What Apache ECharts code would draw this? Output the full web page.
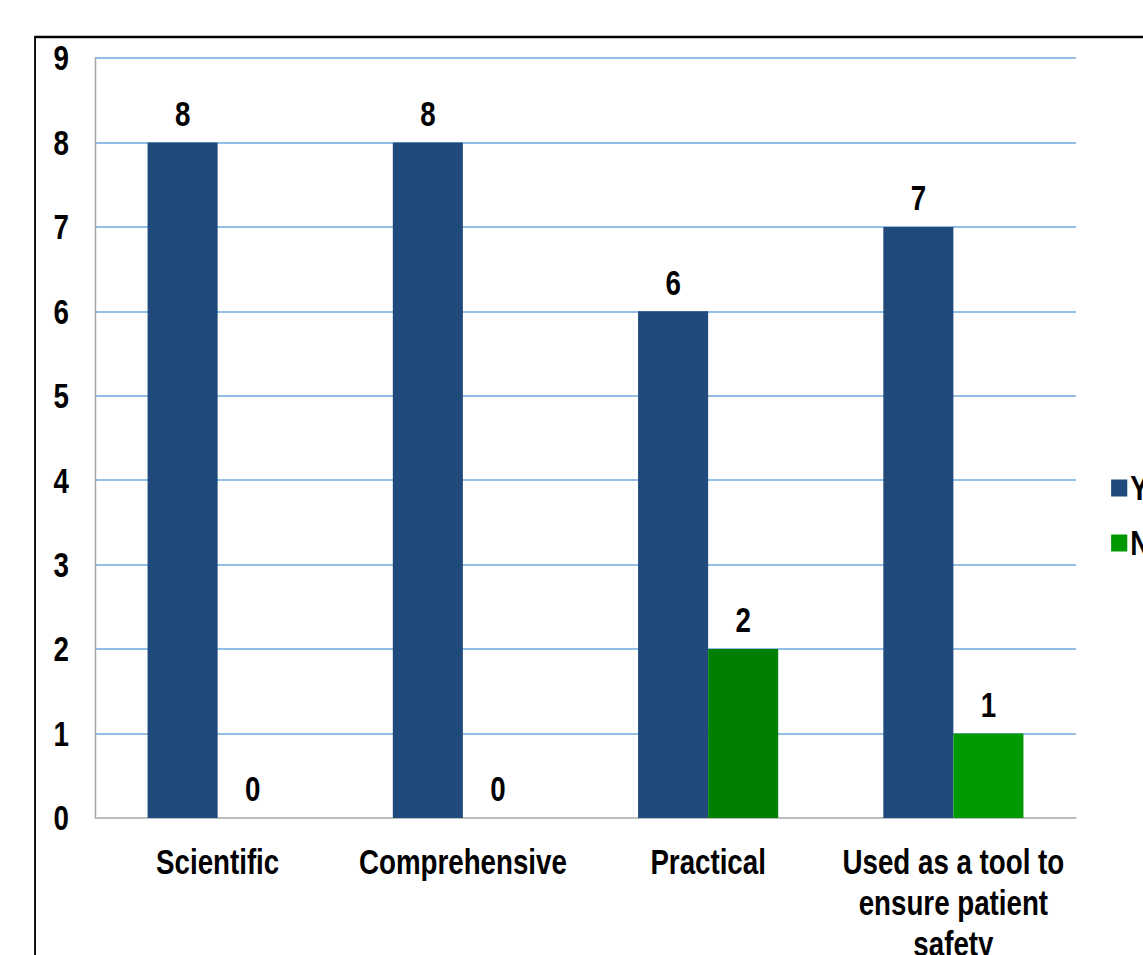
<!DOCTYPE html>
<html>
<head>
<meta charset="utf-8">
<script src="https://cdn.jsdelivr.net/npm/echarts@6/dist/echarts.min.js"></script>
<style>
  html, body { margin: 0; padding: 0; background: #fff; overflow: hidden; width: 1143px; height: 955px; }
  /* The chart is laid out wide and squeezed horizontally, giving the narrow bold lettering */
  #chart { width: 1485px; height: 955px; transform: scaleX(0.77); transform-origin: 0 0; }
</style>
</head>
<body>
<div id="chart"></div>
<script>
// Survey answers per statement
const categories = ['Scientific', 'Comprehensive', 'Practical', 'Used as a tool to\nensure patient\nsafety'];
const yesValues = [8, 8, 6, 7];
const noValues = [0, 0, 2, 1];
const seriesNames = ['Yes', 'No'];

const FONT = '"Liberation Sans", Arial, sans-serif';
const BLUE = '#214a7c';
const GREEN = '#009900';
const DARK_GREEN = '#007f00';

const labelStyle = {
  show: true,
  position: 'top',
  distance: 11,
  color: '#000',
  fontFamily: FONT,
  fontWeight: 'bold',
  fontSize: 36
};

const chart = echarts.init(document.getElementById('chart'), null, { renderer: 'svg' });
chart.setOption({
  backgroundColor: '#fff',
  animation: false,
  graphic: [{
    type: 'rect',
    shape: { x: 45.5, y: 37, width: 1600, height: 1100 },
    style: { fill: 'none', stroke: '#000', lineWidth: 2.4 },
    z: 100
  }],
  legend: {
    orient: 'vertical',
    left: 1438,
    top: 465,
    itemWidth: 21,
    itemHeight: 17,
    itemGap: 19,
    icon: 'rect',
    textStyle: {
      fontFamily: FONT,
      fontWeight: 'bold',
      fontSize: 36,
      lineHeight: 36,
      color: '#000',
      padding: [0, 0, 0, -1]
    },
    data: seriesNames
  },
  grid: { left: 123.4, right: 87.6, top: 58, bottom: 137, outerBoundsMode: 'none' },
  xAxis: {
    type: 'category',
    data: categories,
    axisLine: { lineStyle: { color: '#bdbdbd', width: 2 } },
    axisTick: { show: false },
    axisLabel: {
      margin: 23,
      interval: 0,
      color: '#000',
      fontFamily: FONT,
      fontWeight: 'bold',
      fontSize: 36,
      lineHeight: 41
    }
  },
  yAxis: {
    type: 'value',
    min: 0,
    max: 9,
    interval: 1,
    axisLine: { show: true, lineStyle: { color: '#a6a6a6', width: 2 } },
    axisTick: { show: false },
    splitLine: { lineStyle: { color: '#6fa8dc', width: 1.5 } },
    axisLabel: {
      margin: 34,
      color: '#000',
      fontFamily: FONT,
      fontWeight: 'bold',
      fontSize: 36
    }
  },
  series: [
    {
      name: seriesNames[0],
      type: 'bar',
      barWidth: 91,
      barGap: '0%',
      itemStyle: { color: BLUE },
      label: labelStyle,
      data: yesValues
    },
    {
      name: seriesNames[1],
      type: 'bar',
      barWidth: 91,
      barGap: '0%',
      itemStyle: { color: GREEN },
      label: labelStyle,
      data: noValues.map((v, i) => i === 2 ? { value: v, itemStyle: { color: DARK_GREEN } } : v)
    }
  ]
});
</script>
</body>
</html>
